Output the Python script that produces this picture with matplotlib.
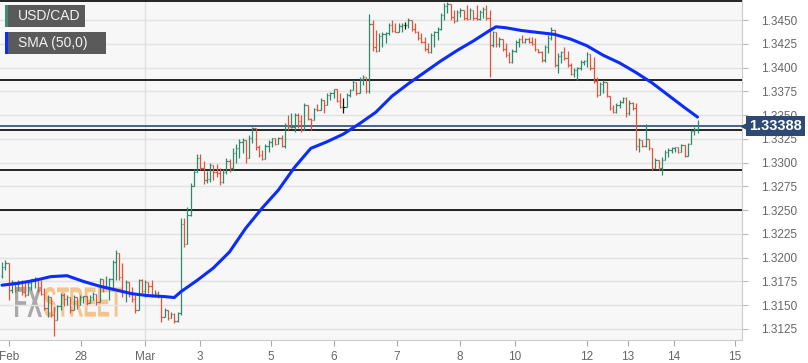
import matplotlib
matplotlib.use('Agg')
import matplotlib.pyplot as plt
from matplotlib.patches import Rectangle, PathPatch
from matplotlib.textpath import TextPath
from matplotlib.font_manager import FontProperties
from matplotlib.transforms import Affine2D, IdentityTransform, blended_transform_factory
import numpy as np

# USD/CAD bars, open of each bar = close of the one before
first_open = 1.3181
highs = [
    1.3195, 1.3198, 1.3194, 1.3176, 1.3173, 1.3176, 1.3176, 1.3174, 1.3176, 1.3178, 1.3180, 1.3178, 1.3176, 1.3168,
    1.3161, 1.3155, 1.3148, 1.3150, 1.3163, 1.3163, 1.3161, 1.3159, 1.3161, 1.3159, 1.3161, 1.3160, 1.3158, 1.3161,
    1.3164, 1.3161, 1.3179, 1.3178, 1.3181, 1.3179, 1.3198, 1.3208, 1.3205, 1.3194, 1.3176, 1.3173, 1.3169,
    1.3161, 1.3178, 1.3177, 1.3176, 1.3171, 1.3176, 1.3166, 1.3165, 1.3160, 1.3147, 1.3145, 1.3143, 1.3142, 1.3143,
    1.3242,
    1.3242, 1.3253, 1.3279, 1.3293, 1.3309, 1.3309, 1.3302, 1.3291, 1.3300, 1.3297, 1.3299, 1.3294, 1.3293, 1.3305,
    1.3304, 1.3315, 1.3320, 1.3325, 1.3326, 1.3324, 1.3329, 1.3337, 1.3334,
    1.3319, 1.3313, 1.3320, 1.3324, 1.3326, 1.3326, 1.3327, 1.3329, 1.3342, 1.3350, 1.3352, 1.3352, 1.3352, 1.3350,
    1.3363, 1.3358, 1.3347, 1.3358, 1.3362, 1.3368, 1.3363, 1.3373, 1.3374, 1.3378, 1.3374, 1.3373, 1.3368, 1.3373,
    1.3378, 1.3387, 1.3382, 1.3390, 1.3392, 1.3387,
    1.3456,
    1.3450, 1.3440, 1.3436, 1.3437, 1.3437, 1.3447, 1.3450, 1.3447, 1.3447, 1.3447, 1.3448, 1.3452, 1.3450, 1.3447,
    1.3439, 1.3436, 1.3432, 1.3426, 1.3436, 1.3439, 1.3443, 1.3457, 1.3468, 1.3469, 1.3466, 1.3461, 1.3461, 1.3463,
    1.3461, 1.3466, 1.3463, 1.3461, 1.3466, 1.3461, 1.3464, 1.3466, 1.3461, 1.3439, 1.3436, 1.3432,
    1.3429, 1.3426, 1.3416, 1.3420, 1.3429, 1.3431, 1.3434, 1.3431, 1.3432, 1.3432, 1.3431, 1.3420, 1.3418, 1.3424,
    1.3434, 1.3443, 1.3440, 1.3415, 1.3418, 1.3422, 1.3418, 1.3405, 1.3400, 1.3401, 1.3408, 1.3408, 1.3416, 1.3414,
    1.3411, 1.3390, 1.3385, 1.3387, 1.3385, 1.3370, 1.3361, 1.3363, 1.3366, 1.3369, 1.3369,
    1.3366, 1.3364, 1.3363, 1.3326, 1.3324, 1.3341, 1.3325, 1.3315, 1.3305, 1.3303, 1.3306, 1.3313, 1.3315, 1.3316,
    1.3316, 1.3316, 1.3320, 1.3319, 1.3321, 1.3334, 1.3337, 1.3345,
]
lows = [
    1.3179, 1.3187, 1.3155, 1.3163, 1.3164, 1.3167, 1.3161, 1.3159, 1.3161, 1.3166, 1.3168, 1.3164, 1.3161, 1.3145,
    1.3137, 1.3137, 1.3117, 1.3140, 1.3145, 1.3149, 1.3150, 1.3142, 1.3150, 1.3146, 1.3150, 1.3152, 1.3150, 1.3152,
    1.3155, 1.3150, 1.3159, 1.3164, 1.3168, 1.3155, 1.3168, 1.3176, 1.3176, 1.3159, 1.3153, 1.3159, 1.3153,
    1.3142, 1.3159, 1.3163, 1.3159, 1.3163, 1.3159, 1.3159, 1.3158, 1.3132, 1.3137, 1.3134, 1.3136, 1.3131, 1.3132,
    1.3140,
    1.3211, 1.3215, 1.3244, 1.3279, 1.3292, 1.3292, 1.3278, 1.3279, 1.3280, 1.3282, 1.3285, 1.3276, 1.3279, 1.3288,
    1.3290, 1.3292, 1.3300, 1.3305, 1.3310, 1.3300, 1.3305, 1.3321, 1.3313,
    1.3306, 1.3303, 1.3305, 1.3311, 1.3316, 1.3319, 1.3322, 1.3316, 1.3315, 1.3334, 1.3336, 1.3332, 1.3336, 1.3332,
    1.3347, 1.3345, 1.3334, 1.3347, 1.3354, 1.3357, 1.3352, 1.3361, 1.3366, 1.3368, 1.3364, 1.3358, 1.3352, 1.3362,
    1.3369, 1.3376, 1.3371, 1.3378, 1.3382, 1.3373,
    1.3373,
    1.3418, 1.3416, 1.3417, 1.3422, 1.3426, 1.3434, 1.3437, 1.3437, 1.3437, 1.3437, 1.3441, 1.3442, 1.3439, 1.3436,
    1.3429, 1.3426, 1.3418, 1.3415, 1.3415, 1.3422, 1.3429, 1.3440, 1.3450, 1.3457, 1.3450, 1.3447, 1.3449, 1.3453,
    1.3450, 1.3450, 1.3451, 1.3450, 1.3450, 1.3450, 1.3452, 1.3450, 1.3390, 1.3422, 1.3422, 1.3422,
    1.3418, 1.3411, 1.3405, 1.3405, 1.3416, 1.3422, 1.3426, 1.3426, 1.3426, 1.3424, 1.3418, 1.3415, 1.3406, 1.3406,
    1.3415, 1.3429, 1.3401, 1.3394, 1.3405, 1.3408, 1.3401, 1.3392, 1.3390, 1.3387, 1.3398, 1.3403, 1.3401, 1.3397,
    1.3384, 1.3369, 1.3371, 1.3373, 1.3369, 1.3355, 1.3352, 1.3352, 1.3358, 1.3363, 1.3348,
    1.3350, 1.3355, 1.3313, 1.3311, 1.3316, 1.3316, 1.3313, 1.3292, 1.3294, 1.3292, 1.3287, 1.3303, 1.3306, 1.3310,
    1.3311, 1.3310, 1.3311, 1.3306, 1.3307, 1.3320, 1.3329, 1.3331,
]
closes = [
    1.3190, 1.3194, 1.3166, 1.3174, 1.3166, 1.3174, 1.3164, 1.3161, 1.3173, 1.3177, 1.3179, 1.3166, 1.3162, 1.3147,
    1.3159, 1.3140, 1.3134, 1.3149, 1.3161, 1.3156, 1.3159, 1.3145, 1.3159, 1.3150, 1.3159, 1.3160, 1.3152, 1.3159,
    1.3162, 1.3153, 1.3177, 1.3168, 1.3169, 1.3178, 1.3195, 1.3205, 1.3180, 1.3165, 1.3174, 1.3162, 1.3156,
    1.3145, 1.3176, 1.3165, 1.3174, 1.3170, 1.3161, 1.3163, 1.3160, 1.3138, 1.3145, 1.3136, 1.3141, 1.3133, 1.3142,
    1.3235,
    1.3214, 1.3245, 1.3275, 1.3290, 1.3305, 1.3294, 1.3282, 1.3283, 1.3297, 1.3290, 1.3289, 1.3280, 1.3290, 1.3302,
    1.3294, 1.3310, 1.3315, 1.3322, 1.3324, 1.3305, 1.3326, 1.3336, 1.3316,
    1.3308, 1.3304, 1.3318, 1.3322, 1.3326, 1.3320, 1.3326, 1.3317, 1.3340, 1.3337, 1.3338, 1.3350, 1.3344, 1.3334,
    1.3361, 1.3346, 1.3345, 1.3356, 1.3355, 1.3366, 1.3361, 1.3371, 1.3373, 1.3377, 1.3365, 1.3359, 1.3359, 1.3371,
    1.3376, 1.3385, 1.3373, 1.3388, 1.3390, 1.3375,
    1.3446,
    1.3422, 1.3418, 1.3433, 1.3435, 1.3436, 1.3445, 1.3439, 1.3438, 1.3444, 1.3445, 1.3445, 1.3450, 1.3441, 1.3437,
    1.3431, 1.3427, 1.3420, 1.3416, 1.3434, 1.3437, 1.3441, 1.3455, 1.3465, 1.3467, 1.3453, 1.3449, 1.3459, 1.3461,
    1.3452, 1.3451, 1.3461, 1.3452, 1.3451, 1.3459, 1.3462, 1.3452, 1.3424, 1.3437, 1.3425, 1.3430,
    1.3420, 1.3413, 1.3406, 1.3418, 1.3427, 1.3430, 1.3427, 1.3430, 1.3427, 1.3425, 1.3420, 1.3416, 1.3408, 1.3422,
    1.3431, 1.3440, 1.3403, 1.3412, 1.3416, 1.3410, 1.3403, 1.3393, 1.3398, 1.3400, 1.3406, 1.3407, 1.3414, 1.3400,
    1.3386, 1.3371, 1.3383, 1.3385, 1.3370, 1.3357, 1.3353, 1.3361, 1.3364, 1.3368, 1.3352,
    1.3363, 1.3357, 1.3318, 1.3324, 1.3318, 1.3325, 1.3315, 1.3294, 1.3303, 1.3294, 1.3303, 1.3311, 1.3313, 1.3315,
    1.3316, 1.3311, 1.3319, 1.3307, 1.3320, 1.3333, 1.3335, 1.33388,
]

# SMA(50) read at every 5th bar
sma_bars = [0, 5, 10, 15, 20, 25, 30, 35, 40, 45, 50, 53, 55, 60, 65, 70, 75, 80, 85, 90, 95, 100, 105, 110,
            115, 120, 125, 130, 135, 140, 145, 150, 152, 155, 160, 165, 170, 175, 180, 185, 190, 195, 200, 205,
            210, 214]
sma_vals = [1.3171, 1.3173, 1.3176, 1.3180, 1.3181, 1.3175, 1.3170, 1.3166, 1.3162, 1.3160, 1.3159, 1.3158,
            1.3164, 1.3176, 1.3189, 1.3206, 1.3231, 1.3252, 1.3271, 1.3295, 1.3315, 1.3322, 1.3330, 1.3341,
            1.3353, 1.3370, 1.3383, 1.3395, 1.3407, 1.3418, 1.3428, 1.3439, 1.3443, 1.3442, 1.3439, 1.3437,
            1.3435, 1.3430, 1.3423, 1.3413, 1.3405, 1.3395, 1.3384, 1.3371, 1.3358, 1.3348]

tick_bars = [2.2, 24.3, 44, 61, 82.8, 102.2, 121.5, 140.9, 157.8, 180, 192.6, 206.8, 225.5]
tick_labels = ['Feb', '28', 'Mar', '3', '5', '6', '7', '8', '10', '12', '13', '14', '15']
levels = [1.3470, 1.3387, 1.3334, 1.3292, 1.3250]
last_price = 1.33388

W, H = 808, 363
fig = plt.figure(figsize=(W / 100, H / 100), dpi=100)
ax = fig.add_axes([0, 23 / H, 742 / W, 340 / H])
ax.set_facecolor('#f7f7f7')

n = len(closes)
x = np.arange(n)
opens = np.array([first_open] + closes[:-1])
c = np.array(closes)
hi = np.maximum(np.array(highs), np.maximum(opens, c))
lo = np.minimum(np.array(lows), np.minimum(opens, c))
cols = np.where(c > opens, '#2e8a6c', np.where(c < opens, '#e2533a', '#111111'))

ax.vlines(x, lo, hi, colors=cols, lw=0.9, zorder=4)
ax.hlines(opens, x - 0.45, x, colors=cols, lw=0.9, zorder=4)
ax.hlines(c, x, x + 0.45, colors=cols, lw=0.9, zorder=4)

ax.plot(sma_bars, sma_vals, color='#0a2cff', lw=2.2, zorder=5, solid_capstyle='round')

for lvl in levels:
    ax.axhline(lvl, color='black', lw=1.2, zorder=3)
ax.axhline(last_price, color='#2e4a72', lw=1.2, zorder=3)

ax.set_xlim(-2 / 3.25, 740 / 3.25)
ax.set_ylim(1.31133, 1.34712)

yt = np.arange(1.3125, 1.34501, 0.0025)
ax.set_yticks(yt)
ax.set_yticklabels([f'{v:.4f}' for v in yt])
ax.yaxis.tick_right()
ax.grid(axis='y', color='#e2e2e2', lw=1, zorder=0)
ax.axvline(tick_bars[2], color='#e2e2e2', lw=1, zorder=0)
ax.set_xticks(tick_bars)
ax.set_xticklabels(tick_labels)
ax.tick_params(axis='y', length=4, width=0.8, color='#bbbbbb', labelcolor='#666666', labelsize=8.5, pad=10)
ax.tick_params(axis='x', length=4, width=0.8, color='#aaaaaa', labelcolor='#666666', labelsize=8.5, pad=4)
for lab in ax.get_xticklabels():
    lab.set_family(['Liberation Sans Narrow', 'Liberation Sans'])
for lab in ax.get_yticklabels():
    lab.set_family('Liberation Sans')
for s in ['top', 'left']:
    ax.spines[s].set_visible(False)
for s in ['right', 'bottom']:
    ax.spines[s].set_color('#cccccc')

# last price tag on the right axis
tr = blended_transform_factory(fig.transFigure, ax.transData)
ax.text(749 / W, last_price, '1.33388', transform=tr, ha='left', va='center', color='white',
        fontsize=10.5, fontweight='bold', family='Liberation Sans', zorder=10, clip_on=False,
        bbox=dict(boxstyle='square,pad=0.22', fc='#2d4a74', ec='none'))
ax.plot([745 / W], [last_price], marker='<', ms=6, color='#2d4a74', transform=tr, clip_on=False, zorder=10)

# legend boxes
def legend_box(y0, width, stripe, label):
    fig.patches.append(Rectangle((5 / W, (H - y0 - 22) / H), width / W, 22 / H, transform=fig.transFigure,
                                 fc='#5a5a5a', ec='none', zorder=20))
    fig.patches.append(Rectangle((5 / W, (H - y0 - 22) / H), 3 / W, 22 / H, transform=fig.transFigure,
                                 fc=stripe, ec='none', zorder=21))
    fig.text(18 / W, (H - y0 - 11) / H, label, color='#f2f2f2', fontsize=10, va='center',
             family='Liberation Sans', zorder=22)

legend_box(5, 80, '#3d8c74', 'USD/CAD')
legend_box(32, 101, '#0b2bff', 'SMA (50,0)')

# FXSTREET watermark
def mark(txt, x0, x1, color):
    tp = TextPath((0, 0), txt, size=1, prop=FontProperties(family='Liberation Sans', weight='bold'))
    ext = tp.get_extents()
    sx = (x1 - x0) / ext.width
    sy = 30 / ext.height
    t = Affine2D().translate(-ext.x0, -ext.y0).scale(sx, sy).translate(x0, H - 317)
    ax.add_patch(PathPatch(tp, transform=t + IdentityTransform(), fc=color, ec='none',
                           alpha=0.75, zorder=1, clip_on=False))

mark('FX', 15, 42, '#8f8f8f')
mark('STREET', 44, 122, '#f2b36b')

fig.savefig('out.png', dpi=100)
